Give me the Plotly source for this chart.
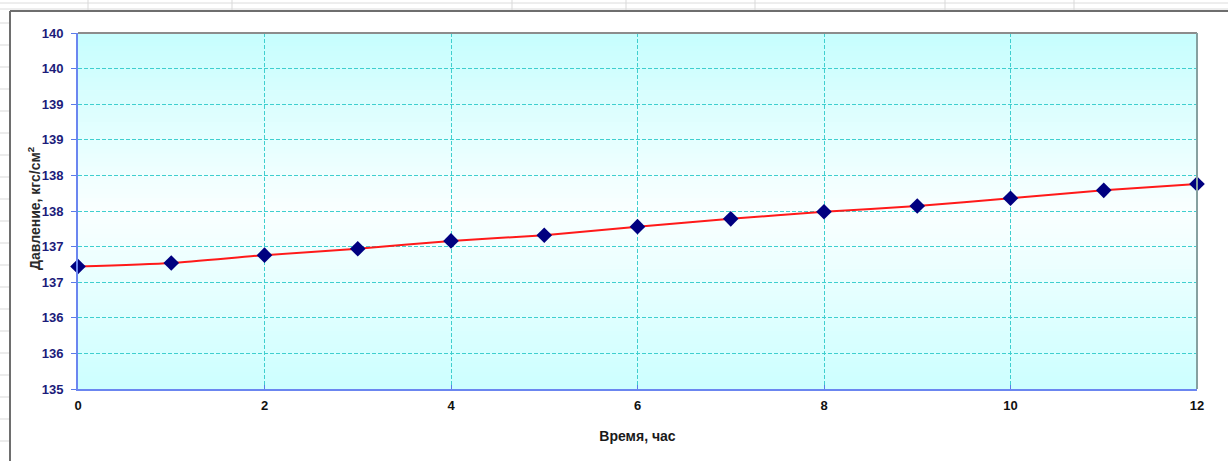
import plotly.graph_objects as go

# Время, ч and давление, кгс/см²
hours = [0, 1, 2, 3, 4, 5, 6, 7, 8, 9, 10, 11, 12]
pressure = [136.72, 136.77, 136.88, 136.97, 137.08, 137.16, 137.28,
            137.39, 137.49, 137.57, 137.68, 137.79, 137.88]

y_tick_values = [135.0, 135.5, 136.0, 136.5, 137.0, 137.5,
                 138.0, 138.5, 139.0, 139.5, 140.0]
y_tick_labels = ["135", "136", "136", "137", "137", "138",
                 "138", "139", "139", "140", "140"]
x_tick_values = [0, 2, 4, 6, 8, 10, 12]

W, H = 1228, 461
L, R, T, B = 78, 1197, 33, 389   # plot area in pixels


def px(xp):
    return (xp - L) / (R - L)


def py(yp):
    return (B - yp) / (B - T)


shapes = []

# Spreadsheet cells behind the chart object
for yy in range(23, 461, 22):
    shapes.append(dict(type="line", xref="paper", yref="paper",
                       x0=px(0), x1=px(10), y0=py(yy), y1=py(yy),
                       line=dict(color="#d9d9d9", width=1), layer="below"))
for yy in (3, 9):
    shapes.append(dict(type="line", xref="paper", yref="paper",
                       x0=px(0), x1=px(W), y0=py(yy), y1=py(yy),
                       line=dict(color="#dcdcdc", width=1), layer="below"))
for xx in (88, 232, 512, 626, 755, 945, 1074):
    shapes.append(dict(type="line", xref="paper", yref="paper",
                       x0=px(xx), x1=px(xx), y0=py(0), y1=py(10),
                       line=dict(color="#d9d9d9", width=1), layer="below"))

# Chart object frame (left and top edges)
shapes.append(dict(type="line", xref="paper", yref="paper",
                   x0=px(10), x1=px(W + 5), y0=py(11), y1=py(11),
                   line=dict(color="#6e6e6e", width=2), layer="below"))
shapes.append(dict(type="line", xref="paper", yref="paper",
                   x0=px(10), x1=px(10), y0=py(11), y1=py(H + 5),
                   line=dict(color="#6e6e6e", width=2), layer="below"))

# Plot area gradient: cyan at the edges fading to white in the centre
n_strips = 80
top_rgb = (198, 254, 254)
mid_rgb = (250, 255, 255)
bot_rgb = (204, 255, 255)
for i in range(n_strips):
    t = (i + 0.5) / n_strips        # 0 at bottom, 1 at top
    if t < 0.5:
        f = t / 0.5
        c = [round(bot_rgb[k] + (mid_rgb[k] - bot_rgb[k]) * f) for k in range(3)]
    else:
        f = (t - 0.5) / 0.5
        c = [round(mid_rgb[k] + (top_rgb[k] - mid_rgb[k]) * f) for k in range(3)]
    shapes.append(dict(type="rect", xref="x domain", yref="y domain",
                       x0=0, x1=1, y0=i / n_strips, y1=(i + 1) / n_strips + 0.002,
                       fillcolor="rgb(%d,%d,%d)" % tuple(c),
                       line=dict(width=0), layer="below"))

# Top and right plot-area borders
shapes.append(dict(type="line", xref="x domain", yref="y domain",
                   x0=0, x1=1, y0=1, y1=1,
                   line=dict(color="#8c8c8c", width=2), layer="above"))
shapes.append(dict(type="line", xref="x domain", yref="y domain",
                   x0=1, x1=1, y0=0, y1=1,
                   line=dict(color="#86a0a0", width=2), layer="above"))

fig = go.Figure()
fig.add_trace(go.Scatter(
    x=hours, y=pressure, mode="lines+markers",
    line=dict(color="#ff1a1a", width=2, shape="spline", smoothing=0.6),
    marker=dict(symbol="diamond", size=12, color="#000080",
                line=dict(width=0)),
    cliponaxis=False, showlegend=False,
))

grid_dash = "4px,2px"

fig.update_layout(
    width=W, height=H,
    margin=dict(l=L, r=W - R, t=T, b=H - B),
    paper_bgcolor="white",
    plot_bgcolor="white",
    font=dict(family="Liberation Sans, Arial, sans-serif"),
    shapes=shapes,
    xaxis=dict(
        range=[0, 12], tickvals=x_tick_values,
        ticks="inside", ticklen=4, tickcolor="#5b7be8",
        ticklabelstandoff=3,
        tickfont=dict(size=13, color="#111111", weight="bold"),
        showline=True, linecolor="#6b86f0", linewidth=2,
        showgrid=True, gridcolor="#3fcfcf", griddash=grid_dash, gridwidth=1,
        zeroline=False,
        title=dict(text="Время, час", standoff=20,
                   font=dict(size=14, color="#1a1a1a", weight="bold")),
    ),
    yaxis=dict(
        range=[135, 140], tickvals=y_tick_values, ticktext=y_tick_labels,
        ticks="outside", ticklen=5, tickcolor="#5b7be8",
        ticklabelstandoff=5,
        tickfont=dict(size=13, color="#1c1c7a", weight="bold"),
        showline=True, linecolor="#6b86f0", linewidth=2,
        showgrid=True, gridcolor="#3fcfcf", griddash=grid_dash, gridwidth=1,
        zeroline=False,
    ),
    annotations=[dict(
        text="Давление, кгс/см<sup>2</sup>",
        xref="paper", yref="paper", x=px(34), y=py(208),
        xanchor="center", yanchor="middle", textangle=-90,
        showarrow=False, font=dict(size=14, color="#2a2a2a", weight="bold"),
    )],
)

fig.write_html("out.html")
